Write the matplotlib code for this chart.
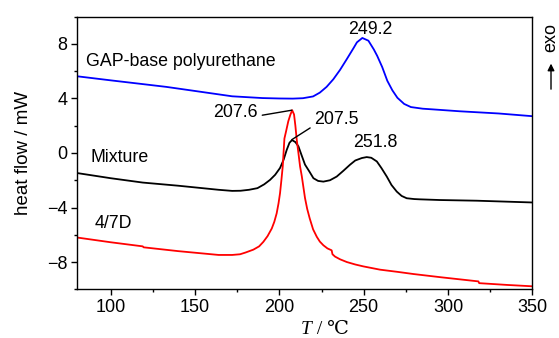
import matplotlib
matplotlib.use("Agg")
import matplotlib.pyplot as plt
from matplotlib.ticker import MultipleLocator

# values (T in degC, heat flow in mW)
gap_T = [80, 100, 120, 133, 150, 172, 190, 200, 208, 214, 220, 224, 228, 232, 236, 240, 244, 246,
         249.2, 252.8, 256, 258, 261, 264, 267, 270, 274, 278, 285, 291, 307, 330, 350]
gap_v = [5.63, 5.33, 5.04, 4.85, 4.55, 4.16, 4.03, 4.0, 3.99, 4.02, 4.15, 4.43, 4.85, 5.41, 6.1, 6.89,
         7.7, 8.12, 8.44, 8.24, 7.6, 7.13, 6.3, 5.3, 4.6, 4.05, 3.6, 3.37, 3.25, 3.2, 3.06, 2.9, 2.7]

mix_T = [80, 100, 119, 140, 164, 172, 177, 182, 187, 191, 194.5, 197.5, 200.4, 202.5, 204.4, 206,
         207.5, 209.5, 211.3, 213, 215.2, 217.8, 220.2, 223, 226.1, 230, 234, 238, 241.9, 245, 248.9,
         251.8, 254.5, 257.8, 260.5, 263.7, 266.5, 269.6, 272.5, 275.5, 280, 283.4, 295, 317, 350]
mix_v = [-1.47, -1.85, -2.17, -2.4, -2.7, -2.78, -2.77, -2.7, -2.58, -2.3, -1.97, -1.6, -1.1, -0.5,
         0.24, 0.75, 0.95, 0.8, 0.49, -0.1, -0.85, -1.36, -1.85, -2.05, -2.1, -2.0, -1.73, -1.3, -0.86,
         -0.55, -0.37, -0.3, -0.35, -0.62, -1.1, -1.73, -2.35, -2.83, -3.15, -3.32, -3.38, -3.4, -3.45,
         -3.5, -3.63]

d47_T = [80, 100, 119, 119.5, 140, 164, 172, 176.7, 180, 184.6, 188, 190.5, 193, 195.5, 197, 198.4,
         199.5, 200.4, 201.2, 202, 203, 204, 205.3, 206.5, 207.6, 208.7, 209.5, 210.3, 211.3, 212.3,
         213.3, 215.2, 216.5, 218, 220, 222.2, 224, 226.1, 228.5, 231, 231.5, 233, 236, 240, 245,
         249.8, 259.7, 270, 279.5, 296, 318, 318.5, 335, 350]
d47_v = [-6.2, -6.55, -6.85, -6.92, -7.2, -7.48, -7.48, -7.43, -7.3, -7.09, -6.85, -6.52, -6.1, -5.54,
         -5.05, -4.43, -3.7, -2.95, -2.0, -0.99, 1.06, 1.6, 2.33, 2.8, 3.14, 2.83, 2.0, 0.98, 0.0, -1.0,
         -1.7, -3.3, -4.1, -4.8, -5.6, -6.15, -6.5, -6.77, -7.0, -7.14, -7.43, -7.6, -7.8, -8.0, -8.18,
         -8.32, -8.56, -8.72, -8.88, -9.12, -9.42, -9.55, -9.68, -9.78]

plt.rcParams['font.family'] = ['Liberation Sans', 'DejaVu Sans']
serif = ['Liberation Serif', 'DejaVu Serif']

fig = plt.figure(figsize=(5.59, 3.38), dpi=100)
ax = fig.add_axes([0.1377, 0.1441, 0.8146, 0.8065])

ax.plot(gap_T, gap_v, color='#0000ff', lw=1.3)
ax.plot(mix_T, mix_v, color='black', lw=1.3)
ax.plot(d47_T, d47_v, color='#ff0000', lw=1.3)

ax.set_xlim(80, 350)
ax.set_ylim(-10, 10)
ax.xaxis.set_major_locator(MultipleLocator(50))
ax.xaxis.set_minor_locator(MultipleLocator(25))
ax.yaxis.set_major_locator(MultipleLocator(4))
ax.yaxis.set_minor_locator(MultipleLocator(2))
ax.tick_params(which='both', direction='out', top=False, right=False, labelsize=13, pad=3)
ax.tick_params(which='major', length=4, width=1)
ax.tick_params(which='minor', length=2.5, width=1)
for s in ax.spines.values():
    s.set_linewidth(1.0)

ax.set_ylabel('heat flow / mW', fontsize=13.5)
ax.yaxis.set_label_coords(-0.098, 0.5)

# x label: italic T plus serif unit, sitting near the bottom edge
fig.text(311.7 / 559, 4 / 338, 'T', fontsize=14, family=serif, style='italic',
         ha='right', va='baseline')
fig.text(312 / 559, 4 / 338, ' / ℃', fontsize=14, family=serif, ha='left', va='baseline')

# curve names
ax.text(85.3, 6.74, 'GAP-base polyurethane', fontsize=12.8, va='center', ha='left')
ax.text(88.1, -0.31, 'Mixture', fontsize=12.8, va='center', ha='left')
ax.text(90.7, -5.14, '4/7D', fontsize=12.8, va='center', ha='left')

# peak labels
ax.text(253.7, 9.08, '249.2', fontsize=12.8, ha='center', va='center')
ax.text(256.7, 0.74, '251.8', fontsize=12.8, ha='center', va='center')
ax.annotate('207.6', xy=(207.4, 3.14), xytext=(187.4, 2.97), fontsize=12.8, ha='right', va='center',
            arrowprops=dict(arrowstyle='-', color='black', lw=1, shrinkA=1, shrinkB=0,
                            relpos=(1.0, 0.3)))
ax.annotate('207.5', xy=(207.4, 0.98), xytext=(220.6, 2.46), fontsize=12.8, ha='left', va='center',
            arrowprops=dict(arrowstyle='-', color='black', lw=1, shrinkA=1, shrinkB=0,
                            relpos=(0.0, 0.15)))

# exo arrow on the right
fig.text(0.9857, 0.89, 'exo', rotation=90, fontsize=13, ha='center', va='center')
fig.add_artist(matplotlib.patches.FancyArrowPatch((0.9857, 0.728), (0.9857, 0.82),
                                                  transform=fig.transFigure,
                                                  arrowstyle='-|>,head_length=4,head_width=2',
                                                  color='black', lw=1))

fig.savefig('out.png', dpi=100)
